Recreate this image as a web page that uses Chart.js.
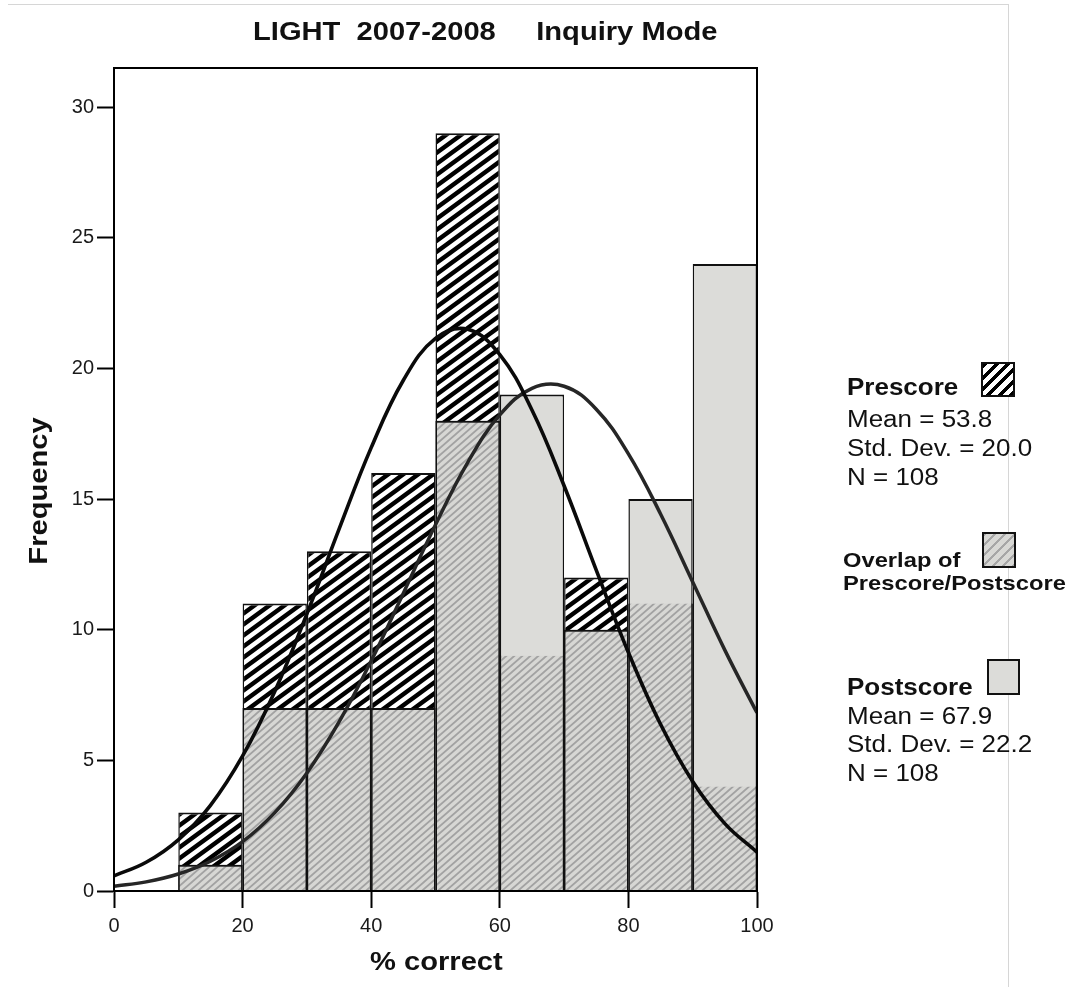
<!DOCTYPE html>
<html lang="en">
<head>
    <meta charset="UTF-8">
    <title>LIGHT 2007-2008 Inquiry Mode</title>
    <script src="https://cdn.jsdelivr.net/npm/chart.js"></script>
    <style>
        body { margin: 0; background: #fff; font-family: 'Liberation Sans', Arial, sans-serif; }
        #wrap { position: relative; width: 1074px; height: 987px; overflow: hidden; }
        #frame { position: absolute; left: 8px; top: 4px; width: 1000px; height: 1000px; border-top: 1px solid #d6d6d6; border-right: 1px solid #d6d6d6; }
        .txt { position: absolute; white-space: pre; color: #111; transform-origin: left top; }
        .b { font-weight: bold; }
        .sw { position: absolute; box-sizing: border-box; border: 2px solid #111; }
    </style>
</head>
<body>
<div id="wrap">
    <div id="frame"></div>
    <canvas id="grafico" width="1074" height="987"></canvas>

    <div class="txt b" style="left:253px; top:18px; font-size:26px; line-height:26px; transform:scaleX(1.12);">LIGHT  2007-2008     Inquiry Mode</div>
    <div class="txt b" style="left:370px; top:948px; font-size:26px; line-height:26px; transform:scaleX(1.12);">% correct</div>
    <div class="txt b" style="left:38px; top:491px; font-size:26px; line-height:26px; transform-origin:center; transform:translate(-50%,-50%) rotate(-90deg) scaleX(1.12);">Frequency</div>

    <!-- legenda -->
    <div class="txt b" style="left:847px; top:376px; font-size:23px; line-height:23px; transform:scaleX(1.13);">Prescore</div>
    <div class="txt" style="left:847px; top:408px; font-size:23px; line-height:23px; transform:scaleX(1.13);">Mean = 53.8</div>
    <div class="txt" style="left:847px; top:437px; font-size:23px; line-height:23px; transform:scaleX(1.13);">Std. Dev. = 20.0</div>
    <div class="txt" style="left:847px; top:466px; font-size:23px; line-height:23px; transform:scaleX(1.13);">N = 108</div>
    <div class="sw" style="left:981px; top:362px; width:34px; height:35px; background:repeating-linear-gradient(135deg, #000 0 3.5px, #fff 3.5px 8px);"></div>

    <div class="txt b" style="left:843px; top:549px; font-size:21px; line-height:21px; transform:scaleX(1.13);">Overlap of</div>
    <div class="txt b" style="left:843px; top:572px; font-size:21px; line-height:21px; transform:scaleX(1.13);">Prescore/Postscore</div>
    <div class="sw" style="left:982px; top:532px; width:34px; height:36px; background:repeating-linear-gradient(135deg, #a6a6a6 0 2px, #d8d8d5 2px 7px);"></div>

    <div class="txt b" style="left:847px; top:676px; font-size:23px; line-height:23px; transform:scaleX(1.13);">Postscore</div>
    <div class="txt" style="left:847px; top:705px; font-size:23px; line-height:23px; transform:scaleX(1.13);">Mean = 67.9</div>
    <div class="txt" style="left:847px; top:733px; font-size:23px; line-height:23px; transform:scaleX(1.13);">Std. Dev. = 22.2</div>
    <div class="txt" style="left:847px; top:762px; font-size:23px; line-height:23px; transform:scaleX(1.13);">N = 108</div>
    <div class="sw" style="left:987px; top:659px; width:33px; height:36px; background:#dcdcd9;"></div>
</div>
<script>
// bins de 10 em 10 (meio do bin)
const binMid = [15, 25, 35, 45, 55, 65, 75, 85, 95];
const preCounts = [3, 11, 13, 16, 29, 9, 12, 11, 4];
const postCounts = [1, 7, 7, 7, 18, 19, 10, 15, 24];
const overlapCounts = [1, 7, 7, 7, 18, 9, 10, 11, 4];

// curvas normais
const curveX = [0, 5, 10, 15, 20, 25, 30, 35, 40, 45, 50, 55, 60, 65, 70, 75, 80, 85, 90, 95, 100];
const preCurve = [0.58, 1.10, 1.96, 3.28, 5.17, 7.64, 10.61, 13.85, 16.97, 19.55, 21.15, 21.50, 20.53, 18.41, 15.51, 12.28, 9.13, 6.38, 4.19, 2.58, 1.49];
const postCurve = [0.18, 0.35, 0.65, 1.14, 1.89, 3.00, 4.52, 6.47, 8.81, 11.40, 14.02, 16.40, 18.22, 19.24, 19.32, 18.44, 16.73, 14.43, 11.83, 9.22, 6.82];

const xTicks = [0, 20, 40, 60, 80, 100];
const yTicks = [0, 5, 10, 15, 20, 25, 30];

// padrao de listras "/" - linhas passam da borda do tile pra nao ficar buraco
function hachura(fundo, cor, w, h, lw) {
    const c = document.createElement('canvas');
    c.width = w;
    c.height = h;
    const g = c.getContext('2d');
    g.fillStyle = fundo;
    g.fillRect(0, 0, w, h);
    g.strokeStyle = cor;
    g.lineWidth = lw;
    g.beginPath();
    for (const o of [-w, 0, w]) {
        g.moveTo(o - w, 2 * h);
        g.lineTo(o + 2 * w, -h);
    }
    g.stroke();
    return g.createPattern(c, 'repeat');
}

const fontePadrao = "'Liberation Sans', Arial, sans-serif";
const padraoPre = hachura('#ffffff', '#000000', 15, 11, 4.4);
const padraoOverlap = hachura('#d7d7d4', '#a2a2a2', 8, 7, 1.8);

const molduraPlugin = {
    id: 'moldura',
    afterDraw(chart) {
        const a = chart.chartArea;
        const ctx = chart.ctx;
        ctx.save();
        ctx.strokeStyle = '#000';
        ctx.lineWidth = 2;
        ctx.strokeRect(a.left, a.top, a.right - a.left, a.bottom - a.top);
        ctx.restore();
    }
};

function pontos(xs, ys) {
    return xs.map((x, i) => ({ x: x, y: ys[i] }));
}

const bordaBarra = { top: 2, left: 1.5, right: 1.5, bottom: 0 };

const config = {
    type: 'bar',
    data: {
        datasets: [
            {
                type: 'line',
                label: 'Prescore normal',
                data: pontos(curveX, preCurve),
                borderColor: '#0a0a0a',
                borderWidth: 3.6,
                pointRadius: 0,
                tension: 0.4,
                fill: false,
                order: 0
            },
            {
                type: 'line',
                label: 'Postscore normal',
                data: pontos(curveX, postCurve),
                borderColor: '#262626',
                borderWidth: 3.5,
                pointRadius: 0,
                tension: 0.4,
                fill: false,
                order: 0
            },
            {
                label: 'Overlap',
                data: pontos(binMid, overlapCounts),
                backgroundColor: padraoOverlap,
                borderColor: '#111',
                borderWidth: function (ctx) {
                    const i = ctx.dataIndex;
                    const topo = preCounts[i] >= postCounts[i] ? 2 : 0;
                    return { top: topo, left: 1.5, right: 1.5, bottom: 0 };
                },
                inflateAmount: 0,
                order: 1
            },
            {
                label: 'Postscore',
                data: pontos(binMid, postCounts),
                backgroundColor: '#dcdcd9',
                borderColor: '#111',
                borderWidth: bordaBarra,
                inflateAmount: 0,
                order: 2
            },
            {
                label: 'Prescore',
                data: pontos(binMid, preCounts),
                backgroundColor: padraoPre,
                borderColor: '#111',
                borderWidth: bordaBarra,
                inflateAmount: 0,
                order: 3
            }
        ]
    },
    options: {
        responsive: false,
        animation: false,
        grouped: false,
        barPercentage: 1,
        categoryPercentage: 1,
        layout: { padding: { top: 68, right: 317, bottom: 0, left: 0 } },
        plugins: {
            legend: { display: false },
            tooltip: { enabled: false }
        },
        scales: {
            x: {
                type: 'linear',
                min: 0,
                max: 100,
                offset: false,
                afterFit: s => { s.height = 96; },
                afterBuildTicks: s => { s.ticks = xTicks.map(v => ({ value: v })); },
                border: { display: true, color: '#000', width: 2 },
                grid: { display: true, offset: false, drawOnChartArea: false, drawTicks: true, tickLength: 17, tickColor: '#000', tickWidth: 2, color: '#000' },
                ticks: { color: '#1a1a1a', padding: 6, font: { family: fontePadrao, size: 20 } }
            },
            y: {
                min: 0,
                max: 31.5,
                afterFit: s => { s.width = 114; },
                afterBuildTicks: s => { s.ticks = yTicks.map(v => ({ value: v })); },
                border: { display: true, color: '#000', width: 2 },
                grid: { display: true, drawOnChartArea: false, drawTicks: true, tickLength: 17, tickColor: '#000', tickWidth: 2, color: '#000' },
                ticks: { color: '#1a1a1a', padding: 3, font: { family: fontePadrao, size: 20 } }
            }
        }
    },
    plugins: [molduraPlugin]
};

new Chart(document.getElementById('grafico'), config);
</script>
</body>
</html>
